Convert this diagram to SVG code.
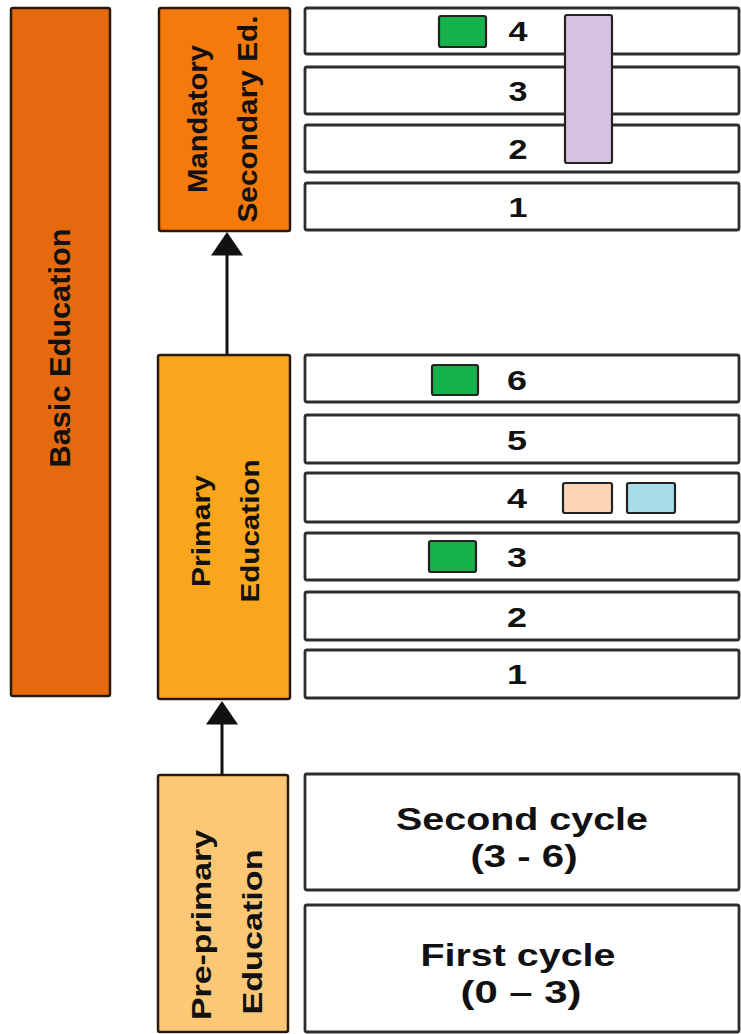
<svg xmlns="http://www.w3.org/2000/svg" width="741" height="1034" viewBox="0 0 741 1034">
<style>
.stage{stroke:#2a1a0e;stroke-width:2.5}
.row{fill:#fff;stroke:#2e2e2e;stroke-width:2.8}
.tag{stroke:#222;stroke-width:2.2}
.lbl{font-family:"Liberation Sans",Arial,sans-serif;fill:#111;font-weight:bold;text-anchor:middle}
.num{font-family:"Liberation Sans",Arial,sans-serif;font-weight:bold;font-size:27px;fill:#111;text-anchor:middle}
.cyc{font-family:"Liberation Sans",Arial,sans-serif;font-weight:bold;font-size:31px;fill:#111;text-anchor:middle}
.conn{stroke:#111;stroke-width:3;fill:none}
</style>
<defs>
<marker id="ah" markerUnits="userSpaceOnUse" markerWidth="24" markerHeight="32" viewBox="0 0 22 30" refX="7" refY="15" orient="auto">
<path d="M0,0 L22,15 L0,30 z" fill="#111"/>
</marker>
</defs>
<rect width="741" height="1034" fill="#fff"/>

<g id="basic-education">
<rect class="stage" x="11" y="8" width="99" height="688" rx="2" fill="#e5690e"/>
<text class="lbl" font-size="30" textLength="239" lengthAdjust="spacingAndGlyphs" transform="translate(70,348) rotate(-90)">Basic Education</text>
</g>

<g id="mandatory-secondary">
<rect class="stage" x="159" y="8" width="131" height="223" rx="2" fill="#f47a0c"/>
<text class="lbl" font-size="27" textLength="148" lengthAdjust="spacingAndGlyphs" transform="translate(207,119) rotate(-90)">Mandatory</text>
<text class="lbl" font-size="27" textLength="207" lengthAdjust="spacingAndGlyphs" transform="translate(257,119) rotate(-90)">Secondary Ed.</text>
</g>

<g id="secondary-years">
<rect class="row" x="305" y="8" width="434" height="46" rx="2"/>
<rect class="row" x="305" y="67" width="434" height="47" rx="2"/>
<rect class="row" x="305" y="125" width="434" height="47" rx="2"/>
<rect class="row" x="305" y="183" width="434" height="47" rx="2"/>
<text class="num" x="518" y="41" textLength="19" lengthAdjust="spacingAndGlyphs">4</text>
<text class="num" x="518" y="101" textLength="19" lengthAdjust="spacingAndGlyphs">3</text>
<text class="num" x="518" y="159" textLength="19" lengthAdjust="spacingAndGlyphs">2</text>
<text class="num" x="518" y="217" textLength="19" lengthAdjust="spacingAndGlyphs">1</text>
<rect class="tag" x="439" y="16" width="47" height="31" rx="2" fill="#16b14a"/>
<rect class="tag" x="565" y="15" width="47" height="148" rx="2" fill="#d5c2e0"/>
</g>

<g id="primary-education">
<rect class="stage" x="158" y="355" width="132" height="344" rx="2" fill="#f9a61c"/>
<text class="lbl" font-size="26" textLength="112" lengthAdjust="spacingAndGlyphs" transform="translate(210,531) rotate(-90)">Primary</text>
<text class="lbl" font-size="26" textLength="143" lengthAdjust="spacingAndGlyphs" transform="translate(259,531) rotate(-90)">Education</text>
</g>

<g id="primary-years">
<rect class="row" x="305" y="355" width="434" height="47" rx="2"/>
<rect class="row" x="305" y="415" width="434" height="48" rx="2"/>
<rect class="row" x="305" y="473" width="434" height="49" rx="2"/>
<rect class="row" x="305" y="533" width="434" height="47" rx="2"/>
<rect class="row" x="305" y="592" width="434" height="48" rx="2"/>
<rect class="row" x="305" y="650" width="434" height="48" rx="2"/>
<text class="num" x="517" y="390" textLength="20" lengthAdjust="spacingAndGlyphs">6</text>
<text class="num" x="517" y="450" textLength="20" lengthAdjust="spacingAndGlyphs">5</text>
<text class="num" x="517" y="508" textLength="20" lengthAdjust="spacingAndGlyphs">4</text>
<text class="num" x="517" y="567" textLength="20" lengthAdjust="spacingAndGlyphs">3</text>
<text class="num" x="517" y="627" textLength="20" lengthAdjust="spacingAndGlyphs">2</text>
<text class="num" x="517" y="684" textLength="20" lengthAdjust="spacingAndGlyphs">1</text>
<rect class="tag" x="432" y="365" width="46" height="30" rx="2" fill="#16b14a"/>
<rect class="tag" x="563" y="483" width="49" height="30" rx="2" fill="#fbd5b5"/>
<rect class="tag" x="627" y="483" width="48" height="30" rx="2" fill="#a8dce8"/>
<rect class="tag" x="429" y="541" width="47" height="31" rx="2" fill="#16b14a"/>
</g>

<g id="pre-primary-education">
<rect class="stage" x="158" y="775" width="130" height="257" rx="2" fill="#fcc876"/>
<text class="lbl" font-size="28" textLength="190" lengthAdjust="spacingAndGlyphs" transform="translate(211,925) rotate(-90)">Pre-primary</text>
<text class="lbl" font-size="28" textLength="165" lengthAdjust="spacingAndGlyphs" transform="translate(262,932) rotate(-90)">Education</text>
</g>

<g id="pre-primary-cycles">
<rect class="row" x="305" y="774" width="434" height="116" rx="2"/>
<rect class="row" x="305" y="905" width="434" height="127" rx="2"/>
<text class="cyc" x="522" y="830" textLength="252" lengthAdjust="spacingAndGlyphs">Second cycle</text>
<text class="cyc" x="524" y="867" textLength="107" lengthAdjust="spacingAndGlyphs">(3 - 6)</text>
<text class="cyc" x="518" y="966" textLength="195" lengthAdjust="spacingAndGlyphs">First cycle</text>
<text class="cyc" x="521" y="1003" textLength="121" lengthAdjust="spacingAndGlyphs">(0 – 3)</text>
</g>

<g id="connectors">
<line class="conn" x1="227" y1="355" x2="227" y2="248" marker-end="url(#ah)"/>
<line class="conn" x1="222" y1="775" x2="222" y2="717" marker-end="url(#ah)"/>
</g>
</svg>
